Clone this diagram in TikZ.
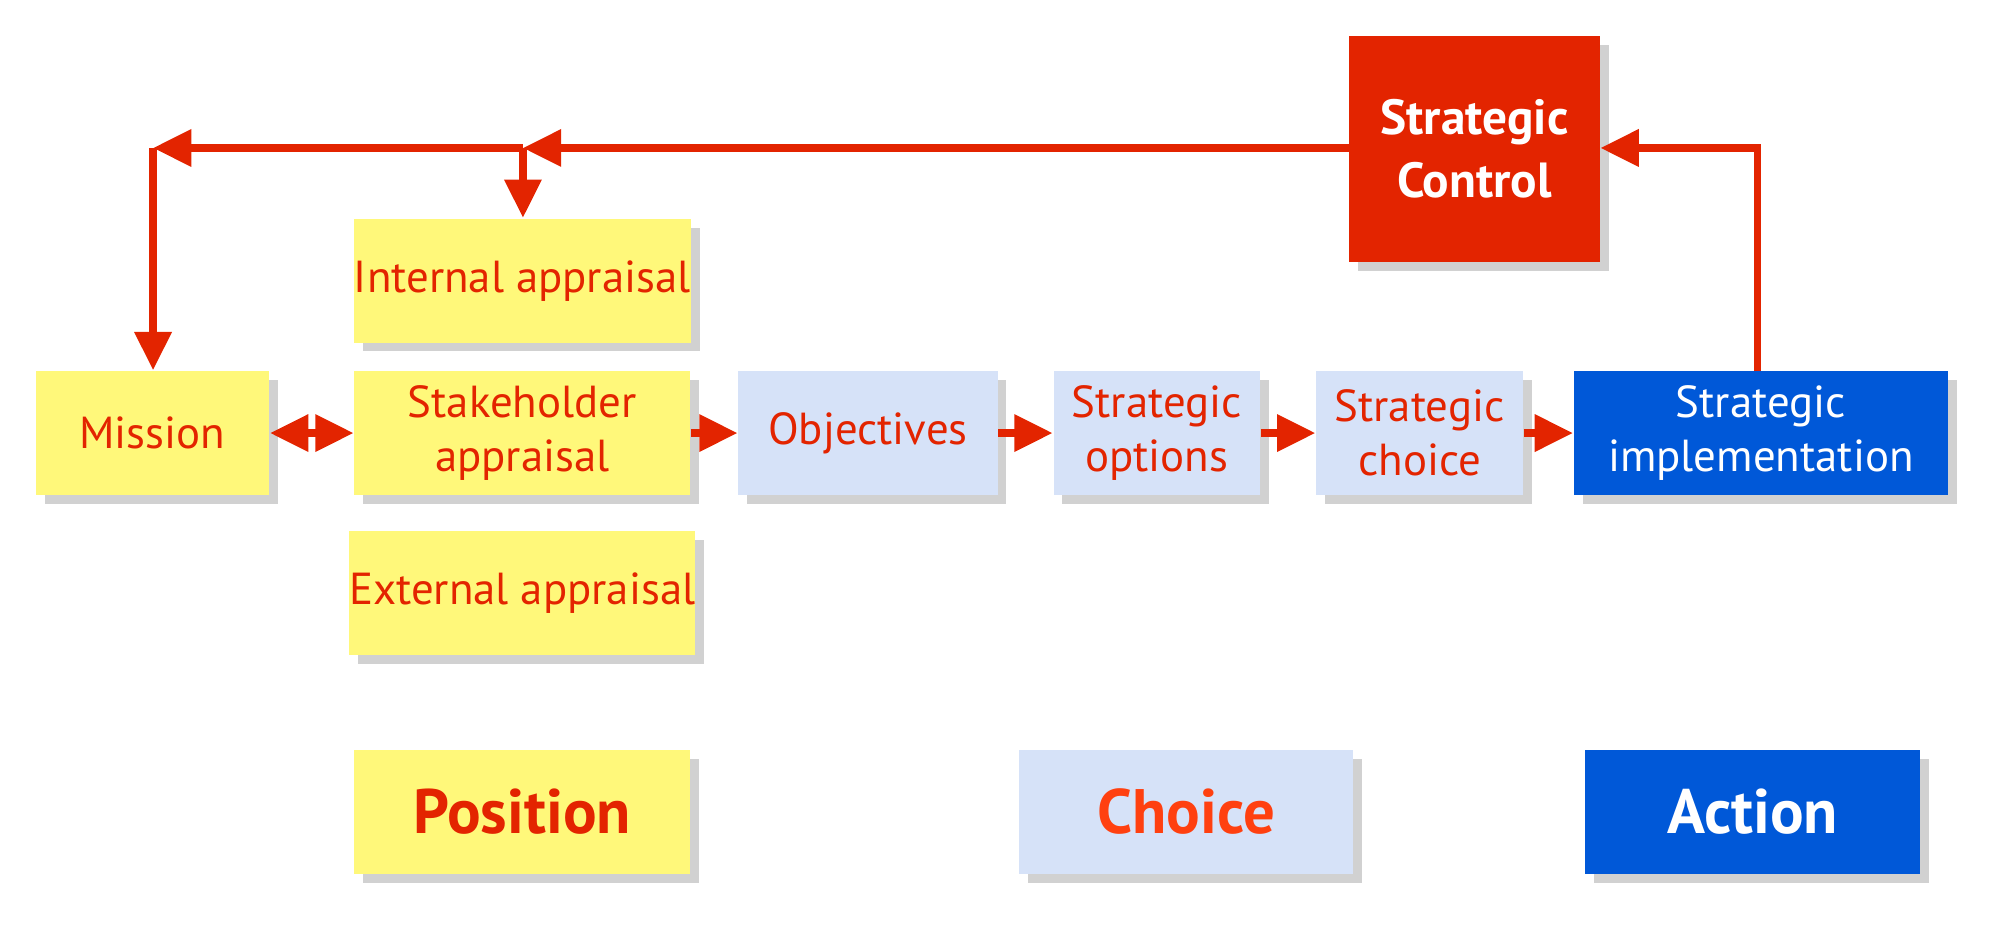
\documentclass[tikz,border=0pt]{standalone}
\usepackage{fontspec}
\setmainfont{PT Sans}
\usetikzlibrary{arrows.meta,shadows}
\definecolor{sred}{HTML}{E32400}
\definecolor{syel}{HTML}{FFF87A}
\definecolor{slb}{HTML}{D6E2F8}
\definecolor{sblue}{HTML}{0058D8}
\definecolor{sorange}{HTML}{FF4010}
\begin{document}
\begin{tikzpicture}[x=0.01cm,y=-0.01cm,
  box/.style={draw=none,minimum height=0.97cm,align=center,font=\fontsize{10}{12}\selectfont,inner sep=0pt,
    drop shadow={shadow xshift=2pt,shadow yshift=-2pt,opacity=0.3,fill=black!60}},
  yel/.style={box,fill=syel,text=sred},
  lb/.style={box,fill=slb,text=sred},
  bl/.style={box,fill=sblue,text=white},
  big/.style={font=\fontsize{14}{16}\selectfont\bfseries},
  arr/.style={draw=sred,line width=1.7pt,-{Triangle[length=0.3cm,width=0.28cm]}}]
\path[use as bounding box] (0,0) rectangle (1568,732);
\node[box,fill=sred,text=white,minimum width=1.96cm,minimum height=1.77cm,font=\fontsize{11}{14}\selectfont\bfseries] (sc) at (1156,116.5) {Strategic\\Control};
\node[yel,minimum width=2.63cm] (ia) at (409.5,220) {Internal appraisal};
\node[yel,minimum width=1.83cm] (mi) at (119.5,339.5) {Mission};
\node[yel,minimum width=2.63cm] (sa) at (409.5,339.5) {Stakeholder\\appraisal};
\node[lb,minimum width=2.03cm] (ob) at (680.5,339.5) {Objectives};
\node[lb,minimum width=1.62cm] (so) at (907,339.5) {Strategic\\options};
\node[lb,minimum width=1.62cm] (sch) at (1113,339.5) {Strategic\\choice};
\node[bl,minimum width=2.93cm] (si) at (1380.5,339.5) {Strategic\\implementation};
\node[yel,minimum width=2.63cm] (ea) at (409.5,465) {External appraisal};
\node[yel,big,minimum width=2.63cm] (po) at (409.5,636.5) {Position};
\node[lb,big,text=sorange,minimum width=2.62cm] (ch) at (930,636.5) {Choice};
\node[bl,big,minimum width=2.62cm] (ac) at (1374,636.5) {Action};
\coordinate (c1) at (120,116);
\coordinate (c2) at (410,116);
\draw[arr] (sc.west |- c2) -- (c2);
\draw[arr] (c2) -- (c1);
\draw[arr] (c1) -- (mi.north -| c1);
\draw[arr] (c2) -- (ia.north -| c2);
\draw[arr] (1378,291) -- (1378,116) -- (sc.east |- c2);
\draw[draw=sred,line width=1.7pt,{Triangle[length=0.3cm,width=0.28cm]}-{Triangle[length=0.3cm,width=0.28cm]}] (mi.east) -- (sa.west);
\draw[arr] (sa.east) -- (ob.west);
\draw[arr] (ob.east) -- (so.west);
\draw[arr] (so.east) -- (sch.west);
\draw[arr] (sch.east) -- (si.west);
\end{tikzpicture}
\end{document}
